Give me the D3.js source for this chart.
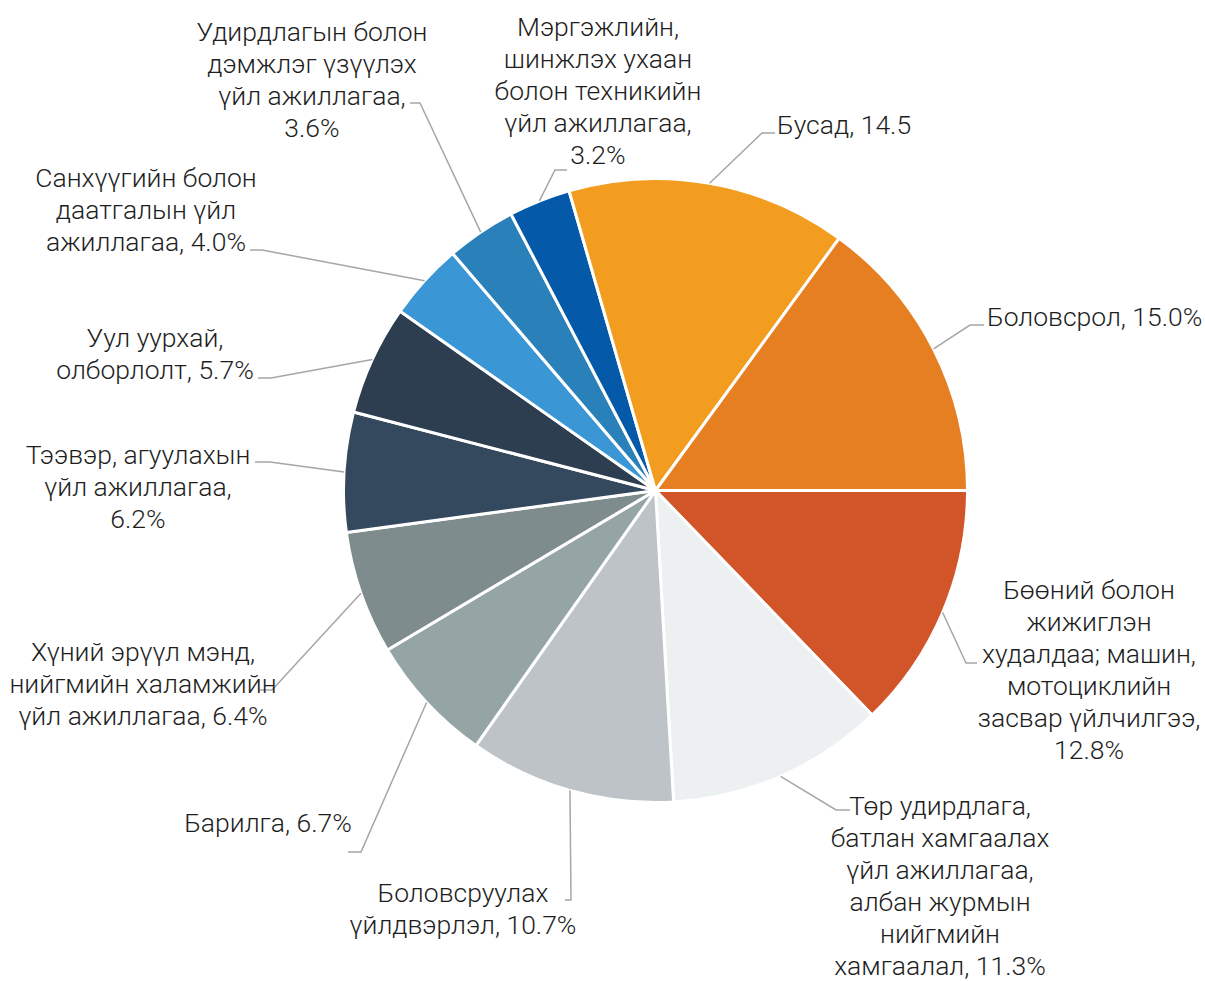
<!DOCTYPE html>
<html>
<head>
<meta charset="utf-8">
<script src="https://cdn.jsdelivr.net/npm/d3@7"></script>
<style>
  html, body { margin: 0; padding: 0; background: #fff; }
  #chart { width: 1205px; height: 981px; }
  text { font-family: Roboto, "Noto Sans", sans-serif; font-weight: 300; fill: #1e1e1e; }
</style>
</head>
<body>
<div id="chart"></div>
<script>

// Sectors, clockwise from 3 o'clock
const categories = [
    "Бөөний болон жижиглэн худалдаа; машин, мотоциклийн засвар үйлчилгээ",
    "Төр удирдлага, батлан хамгаалах үйл ажиллагаа, албан журмын нийгмийн хамгаалал",
    "Боловсруулах үйлдвэрлэл",
    "Барилга",
    "Хүний эрүүл мэнд, нийгмийн халамжийн үйл ажиллагаа",
    "Тээвэр, агуулахын үйл ажиллагаа",
    "Уул уурхай, олборлолт",
    "Санхүүгийн болон даатгалын үйл ажиллагаа",
    "Удирдлагын болон дэмжлэг үзүүлэх үйл ажиллагаа",
    "Мэргэжлийн, шинжлэх ухаан болон техникийн үйл ажиллагаа",
    "Бусад",
    "Боловсрол"
];

const values = [12.8, 11.3, 10.7, 6.7, 6.4, 6.2, 5.7, 4.0, 3.6, 3.2, 14.5, 15.0];

// label text, "{v}" is replaced by the value
const labelLines = [
    ["Бөөний болон", "жижиглэн", "худалдаа; машин,", "мотоциклийн", "засвар үйлчилгээ,", "{v}%"],
    ["Төр удирдлага,", "батлан хамгаалах", "үйл ажиллагаа,", "албан журмын", "нийгмийн", "хамгаалал, {v}%"],
    ["Боловсруулах", "үйлдвэрлэл, {v}%"],
    ["Барилга, {v}%"],
    ["Хүний эрүүл мэнд,", "нийгмийн халамжийн", "үйл ажиллагаа, {v}%"],
    ["Тээвэр, агуулахын", "үйл ажиллагаа,", "{v}%"],
    ["Уул уурхай,", "олборлолт, {v}%"],
    ["Санхүүгийн болон", "даатгалын үйл", "ажиллагаа, {v}%"],
    ["Удирдлагын болон", "дэмжлэг үзүүлэх", "үйл ажиллагаа,", "{v}%"],
    ["Мэргэжлийн,", "шинжлэх ухаан", "болон техникийн", "үйл ажиллагаа,", "{v}%"],
    ["Бусад, {v}"],
    ["Боловсрол, {v}%"]
];

const colours = ["#D2552A", "#ECF0F1", "#BDC3C7", "#95A5A6", "#7F8C8D", "#34495E",
                 "#2C3E50", "#3A96D4", "#2A80B9", "#045AA8", "#F29D20", "#E67E22"];

// label placement: text x, first baseline, anchor, leader elbow and end
const labelPos = [
    { x: 1089, y: 599, anchor: "middle", elbow: [966, 663], end: [977, 663] },
    { x: 940,  y: 815, anchor: "middle", elbow: [836, 810], end: [850, 810] },
    { x: 463,  y: 902, anchor: "middle", elbow: [571, 900], end: [565, 900] },
    { x: 268,  y: 832, anchor: "middle", elbow: [361, 852], end: [348, 852] },
    { x: 143,  y: 661, anchor: "middle", elbow: [272, 690], end: [259, 690] },
    { x: 138,  y: 464, anchor: "middle", elbow: [270, 462], end: [255, 462] },
    { x: 155,  y: 347, anchor: "middle", elbow: [271, 378], end: [258, 378] },
    { x: 146,  y: 187, anchor: "middle", elbow: [262, 250], end: [250, 250] },
    { x: 312,  y: 41,  anchor: "middle", elbow: [420, 103], end: [410, 103] },
    { x: 598,  y: 36,  anchor: "middle", elbow: [555, 170], end: [567, 170] },
    { x: 777,  y: 134, anchor: "start",  elbow: [762, 133], end: [775, 133] },
    { x: 987,  y: 326, anchor: "start",  elbow: [970, 325], end: [984, 325] }
];

const width = 1205, height = 981;
const cx = 655.5, cy = 490.5, r = 312;
const lineHeight = 32;

const svg = d3.select("#chart").append("svg")
    .attr("width", width)
    .attr("height", height);

const g = svg.append("g")
    .attr("transform", "translate(" + cx + "," + cy + ")");

const pie = d3.pie()
    .sort(null)
    .startAngle(Math.PI / 2)
    .endAngle(Math.PI / 2 + 2 * Math.PI);

const arcs = pie(values);

const arc = d3.arc().innerRadius(0).outerRadius(r);
const edgeArc = d3.arc().innerRadius(r).outerRadius(r);

g.selectAll("path.slice")
    .data(arcs)
    .enter().append("path")
    .attr("class", "slice")
    .attr("d", arc)
    .style("fill", (d, i) => colours[i])
    .style("stroke", "#fff")
    .style("stroke-width", 3)
    .style("stroke-linejoin", "round");

// leader lines
svg.selectAll("polyline.leader")
    .data(arcs)
    .enter().append("polyline")
    .attr("class", "leader")
    .attr("points", function(d, i) {
        const c = edgeArc.centroid(d);
        const p = labelPos[i];
        return [[cx + c[0], cy + c[1]], p.elbow, p.end].map((q) => q.join(",")).join(" ");
    })
    .style("fill", "none")
    .style("stroke", "#a6a6a6")
    .style("stroke-width", 1.5);

// labels
const labels = svg.selectAll("text.label")
    .data(arcs)
    .enter().append("text")
    .attr("class", "label")
    .attr("font-size", 26.5)
    .attr("text-anchor", (d, i) => labelPos[i].anchor);

labels.each(function(d, i) {
    const t = d3.select(this);
    const p = labelPos[i];
    labelLines[i].forEach(function(line, j) {
        t.append("tspan")
            .attr("x", p.x)
            .attr("y", p.y + j * lineHeight)
            .text(line.replace("{v}", values[i].toFixed(1)));
    });
});

</script>
</body>
</html>
